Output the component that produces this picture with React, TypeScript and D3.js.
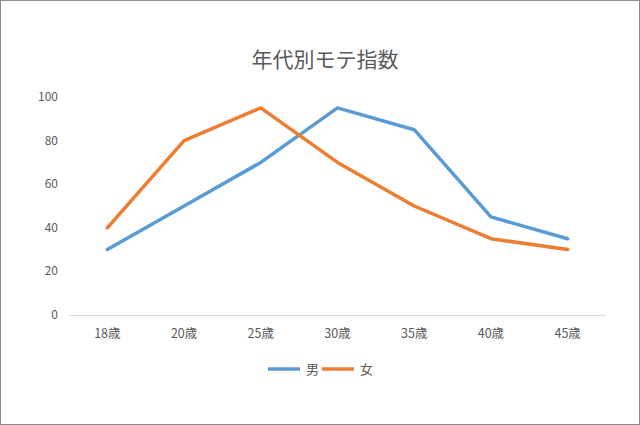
import * as d3 from "d3";

const categories = ["18歳", "20歳", "25歳", "30歳", "35歳", "40歳", "45歳"];
const male = [30, 50, 70, 95, 85, 45, 35];
const female = [40, 80, 95, 70, 50, 35, 30];
const yTicks = [0, 20, 40, 60, 80, 100];

export default function App() {
  const width = 640, height = 425;
  const x = d3.scaleBand().domain(categories).range([69, 606]);
  const y = d3.scaleLinear().domain([0, 100]).range([315, 97]);
  const line = d3.line<number>()
    .x((_, i) => (x(categories[i]) as number) + x.bandwidth() / 2)
    .y(d => y(d));
  const font = "'Noto Sans CJK JP', sans-serif";
  const series = [
    { name: "男", data: male, color: "#5B9BD5" },
    { name: "女", data: female, color: "#ED7D31" },
  ];
  return (
    <svg width={width} height={height} style={{ position: "absolute", left: 0, top: 0 }} fontFamily={font}>
      <rect x={0.5} y={0.5} width={width - 1} height={height - 1} fill="#fff" stroke="#8c8c8c" />
      <text x={325} y={67} textAnchor="middle" fontSize={21} fill="#595959">年代別モテ指数</text>
      {yTicks.map(t => (
        <text key={t} x={58} y={y(t) + 4} textAnchor="end" fontSize={12} fill="#595959">{t}</text>
      ))}
      <line x1={69} x2={606} y1={315.5} y2={315.5} stroke="#d9d9d9" />
      {categories.map(c => (
        <text key={c} x={(x(c) as number) + x.bandwidth() / 2} y={338} textAnchor="middle" fontSize={12.5} fill="#595959">{c}</text>
      ))}
      {series.map(s => (
        <path key={s.name} d={line(s.data) as string} fill="none" stroke={s.color} strokeWidth={3.5} strokeLinejoin="round" strokeLinecap="round" />
      ))}
      {series.map((s, i) => (
        <g key={s.name} transform={`translate(${268 + i * 54},369)`}>
          <line x1={0} x2={32} y1={0} y2={0} stroke={s.color} strokeWidth={3.5} />
          <text x={38} y={5} fontSize={13} fill="#595959">{s.name}</text>
        </g>
      ))}
    </svg>
  );
}
